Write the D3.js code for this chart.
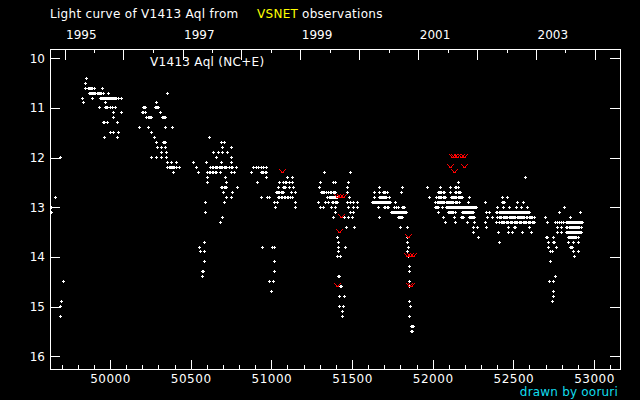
<!DOCTYPE html>
<html><head><meta charset="utf-8">
<script src="https://cdn.jsdelivr.net/npm/d3@7"></script>
<style>html,body{margin:0;padding:0;background:#000;}svg{display:block;}</style>
</head><body>
<svg id="chart" width="640" height="400"></svg>
<script>
// ---- data: [magnitude, [JD-2400000 ...]] ----
const season1994 = [[12.0,[49690]],[12.8,[49661]],[13.0,[49636]],[13.1,[49636]],[14.5,[49711]],[14.9,[49698]],[15.0,[49692]],[15.2,[49692]]];
const season1995 = [
 [10.4,[49853]],[10.5,[49847]],
 [10.6,[49847,49866,49872,49880,49886,49893,49901,49952]],
 [10.7,[49872,49878,49886,49893,49899,49906,49913,49920,49926,49932,49938,49944,49950,49959,49992]],
 [10.8,[49829,49891,49938,49945,49952,49959,49967,49973,49979,49986,49992,49998,50004,50010,50016,50022,50029,50035,50041,50052,50070]],
 [10.9,[49835,49973]],
 [11.0,[49934,49969,49979,49986,50000,50014,50031]],
 [11.1,[50021,50070]],[11.2,[50021]],
 [11.3,[49961,49967,49983,50045]],
 [11.5,[50004,50021,50052]],[11.6,[49965,50045]]];
const season1996 = [
 [10.7,[50355]],[10.9,[50287]],
 [11.0,[50209,50216,50223,50279,50284,50289,50294,50299]],
 [11.1,[50200,50209,50223,50314]],
 [11.2,[50227,50237,50244,50252,50260,50324,50330,50336,50341]],
 [11.4,[50182,50238,50345,50386]],[11.5,[50258]],[11.6,[50275]],
 [11.7,[50289,50330,50336,50341]],[11.8,[50293,50320,50343]],[11.9,[50320,50347]],
 [12.0,[50256,50289,50320,50351]],[12.1,[50355,50382,50413]],
 [12.2,[50355,50367,50372,50378,50384,50390,50396,50402,50413,50429]],[12.3,[50392]]];
const season1997 = [
 [11.6,[50615]],[11.7,[50692,50708]],[11.8,[50696,50750]],[11.9,[50640,50671,50698,50727]],
 [12.0,[50661,50750]],[12.1,[50516,50599,50692,50754]],
 [12.2,[50537,50624,50634,50644,50652,50660,50668,50676,50684,50692,50700,50708,50716,50725,50743,50752,50760,50785]],
 [12.3,[50547,50603,50614,50624,50634,50644,50654,50661,50682,50754,50770]],
 [12.4,[50605,50714]],[12.5,[50603,50719]],
 [12.6,[50692,50700,50708,50716,50723,50789]],[12.7,[50702,50758]],[12.8,[50723,50754]],
 [12.9,[50593,50708]],[13.1,[50593]],[13.2,[50696]],[13.3,[50684]],
 [13.7,[50584]],[13.8,[50553]],[13.9,[50560,50584]],[14.1,[50584]],[14.3,[50572,50582]],[14.4,[50572]]];
const season1998 = [
 [12.2,[50888,50905,50921,50938,50954,50971]],
 [12.3,[50878,50940,50947,50954,50962,50971]],
 [12.4,[50971,51101,51130]],
 [12.5,[50913,51053,51078,51086,51095,51115,51130]],
 [12.6,[51043,51074,51080,51090,51111,51140]],
 [12.7,[51033,51040,51047,51053,51060,51066,51074,51126,51150]],
 [12.8,[50940,50975,50987,51043,51053,51064,51072,51080,51090,51100,51109,51120,51130]],
 [12.9,[51022,51039,51152]],[13.0,[51026,51150]],
 [13.8,[50944,51006,51020]],[14.1,[51018]],[14.3,[51018]],[14.5,[50991,51012]],[14.7,[50999]]];
const season1999 = [
 [12.3,[51328,51489]],[12.5,[51303,51384,51398,51477]],[12.6,[51297,51470]],
 [12.7,[51309,51316,51324,51332,51340,51355,51365,51375,51384,51392,51400,51470]],
 [12.8,[51347,51359,51365,51371,51377,51384,51390,51396,51402,51411,51483]],
 [12.9,[51291,51336,51353,51380,51388,51396,51404,51411,51470,51491,51508,51532]],
 [13.0,[51305,51326,51371,51396,51477,51508,51534]],
 [13.1,[51398,51491,51508]],[13.2,[51384,51456,51477,51501]],[13.4,[51464,51514]],
 [13.6,[51408]],[13.7,[51415]],[13.8,[51415,51458]],[13.9,[51415]],[14.0,[51413,51431]],
 [14.4,[51417,51421]],[14.6,[51429,51433]],[14.8,[51421,51452]],[15.0,[51421,51446]],[15.1,[51439]],[15.2,[51439]]];
const season2000 = [
 [12.6,[51669,51811]],
 [12.7,[51642,51669,51694,51702,51710,51720,51807]],
 [12.8,[51642,51669,51675,51681,51687,51694,51700,51706,51714,51731]],
 [12.9,[51627,51636,51642,51648,51654,51660,51666,51672,51678,51684,51690,51696,51702,51708,51714,51720,51727,51733,51739,51770]],
 [13.0,[51665,51704,51710,51718,51727,51766,51776,51786,51813,51817,51821,51828]],
 [13.1,[51745,51751,51757,51763,51769,51776,51782,51788,51794,51800,51806,51812,51818,51824,51830,51838]],
 [13.2,[51669,51791,51797,51803,51809,51813]],[13.4,[51799,51844]],
 [13.6,[51842]],[13.7,[51842]],[13.8,[51848]],[13.9,[51842]],[14.0,[51848]],[14.2,[51855]],[14.3,[51855]],
 [14.5,[51855]],[14.6,[51855]],[14.9,[51855]],[15.0,[51861]],[15.2,[51855]],[15.4,[51871,51875,51879]],[15.5,[51871,51875]]];
const season2001 = [
 [12.5,[52162]],
 [12.6,[51968,52049,52111,52142,52150,52158]],
 [12.7,[52034,52041,52049,52057,52065,52072,52111,52142,52150,52158,52166,52173]],
 [12.8,[51979,52024,52034,52041,52049,52057,52065,52074,52082,52117,52123,52130,52137,52144,52150,52157,52164,52171,52178,52185,52226]],
 [12.9,[52020,52027,52034,52041,52048,52055,52062,52069,52076,52083,52090,52097,52104,52111,52118,52125,52132,52140,52147,52154,52164,52220,52328]],
 [13.0,[52018,52024,52030,52034,52061,52086,52092,52098,52104,52110,52116,52122,52128,52134,52140,52146,52152,52158,52164,52170,52176,52182,52188,52194,52200,52206,52212,52218,52224,52230,52236,52242,52248,52254,52260,52266,52272]],
 [13.1,[52034,52096,52102,52108,52114,52120,52127,52140,52185,52191,52197,52203,52209,52216,52222,52228,52235,52241,52247,52251,52334,52354]],
 [13.2,[52065,52138,52179,52185,52191,52230,52236,52242,52248,52254,52262,52338]],
 [13.3,[52080,52144,52214,52257,52326]],[13.4,[52251,52276,52332]],[13.5,[52251]],[13.6,[52282]]];
const season2002 = [
 [12.4,[52573]],[12.8,[52433,52462]],[12.9,[52431,52437,52447,52524,52561]],
 [13.0,[52402,52437,52478,52520,52551,52588]],
 [13.1,[52396,52402,52416,52422,52428,52434,52440,52446,52452,52458,52464,52470,52476,52482,52488,52494,52500,52506,52512,52518,52524,52530,52536,52542,52548,52554,52560,52566,52572,52578,52584,52590,52596,52602]],
 [13.2,[52371,52400,52412,52420,52428,52436,52444,52452,52458,52466,52474,52482,52489,52496,52503,52509,52516,52523,52530,52536,52542,52551,52557,52563,52570,52582,52590,52598,52605,52612,52620,52629]],
 [13.3,[52398,52416,52424,52432,52440,52448,52456,52464,52472,52480,52488,52496,52504,52512,52520,52528,52536,52544,52552,52560,52568,52576,52584,52592,52600,52608,52616,52624,52631]],
 [13.4,[52468,52509,52516,52598]],[13.5,[52406,52468,52495,52557,52613]],[13.7,[52412]]];
const season2003 = [
 [13.0,[52815]],[13.1,[52784,52914]],[13.2,[52701,52856]],
 [13.3,[52710,52763,52772,52784,52798,52813,52829,52835,52842,52848,52854,52860,52866,52872,52878,52884,52890,52896,52902,52908,52914,52922,52929]],
 [13.4,[52772,52798,52829,52836,52848,52856,52862,52868,52874,52880,52886,52892,52898,52904,52910,52922]],
 [13.5,[52772,52798,52829,52835,52841,52847,52853,52859,52865,52871,52877,52883,52889,52895,52901,52907,52913,52919,52924]],
 [13.6,[52707,52712,52751,52840,52846,52852,52858,52864,52870,52876,52882,52888,52894,52902]],
 [13.7,[52716,52751,52753,52842,52875,52902]],
 [13.8,[52716,52765,52856,52860,52866]],
 [13.9,[52730,52741,52875,52902]],[14.0,[52881]],[14.1,[52728]],
 [14.4,[52761]],[14.5,[52722,52747]],[14.7,[52747]],[14.8,[52747]],[14.9,[52743]]];
// fainter-than limits (red marks)
const limitJD  = [51070,51408,51429,51450,51435,51425,51408,51852,51846,51863,51879,51855,51871,52121,52138,52155,52178,52199,52113,52195,52134];
const limitMag = [12.3, 12.8, 12.8, 12.8, 13.2, 13.5, 14.6, 13.6, 14.0, 14.0, 14.0, 14.6, 14.6, 12.0, 12.0, 12.0, 12.0, 12.0, 12.2, 12.2, 12.3];
// axis ticks
const jdMajor = [50000,50500,51000,51500,52000,52500,53000];
const jdMinor = [49700,49800,49900,50100,50200,50300,50400,50600,50700,50800,50900,51100,51200,51300,51400,51600,51700,51800,51900,52100,52200,52300,52400,52600,52700,52800,52900,53100];
const years = [1995,1996,1997,1998,1999,2000,2001,2002,2003,2004];
const yearLabels = [1995,1997,1999,2001,2003];
const magTicks = [10,11,12,13,14,15,16];

const toJD = (yy,m,d) => Date.UTC(yy,m,d)/86400000 + 2440587.5 - 2400000;

const svg = d3.select("#chart");
svg.append("rect").attr("width",640).attr("height",400).attr("fill","#000");

const x = d3.scaleLinear().domain([49628, 53161]).range([50, 620]);
const y = d3.scaleLinear().domain([9.813, 16.276]).range([49, 370]);

const font = "'DejaVu Sans', sans-serif";

function styleAxis(g){
  g.select(".domain").remove();
  g.selectAll("line").attr("stroke","#fff").attr("shape-rendering","crispEdges");
  g.selectAll("text").attr("fill","#fff").attr("font-family",font).attr("font-size",12);
}

// frame
svg.append("rect").attr("x",50.5).attr("y",49.5).attr("width",570).attr("height",320)
  .attr("fill","none").attr("stroke","#fff").attr("shape-rendering","crispEdges");

// bottom axis
svg.append("g").attr("transform","translate(0,370)")
  .call(d3.axisBottom(x).tickValues(jdMinor).tickSize(-5).tickFormat(""))
  .call(styleAxis);
const gb = svg.append("g").attr("transform","translate(0,370)")
  .call(d3.axisBottom(x).tickValues(jdMajor).tickSize(-10).tickFormat(d3.format("d")))
  .call(styleAxis);
gb.selectAll("text").attr("y",13).attr("dy",0).attr("letter-spacing","0.5px");

// top axis (years)
const yearJD = years.map(yy => toJD(yy,0,1));
const halfJD = years.map(yy => toJD(yy,6,2)).filter(v => v < 53161);
svg.append("g").attr("transform","translate(0,49)")
  .call(d3.axisTop(x).tickValues(halfJD).tickSize(-4).tickFormat(""))
  .call(styleAxis);
const gt = svg.append("g").attr("transform","translate(0,49)")
  .call(d3.axisTop(x).tickValues(yearJD).tickSize(-11)
    .tickFormat((d,i) => yearLabels.includes(years[i]) ? String(years[i]) : ""))
  .call(styleAxis);
gt.selectAll("text").attr("text-anchor","start").attr("x",1).attr("y",-10).attr("dy",0);

// left / right axes
svg.append("g").attr("transform","translate(50,0)")
  .call(d3.axisLeft(y).tickValues(magTicks).tickSize(-10).tickPadding(5).tickFormat(d3.format("d")))
  .call(styleAxis);
svg.append("g").attr("transform","translate(620,0)")
  .call(d3.axisRight(y).tickValues(magTicks).tickSize(-10).tickFormat(""))
  .call(styleAxis);

// observations
const seasons = [season1994,season1995,season1996,season1997,season1998,season1999,season2000,season2001,season2002,season2003];
const obs = seasons.flatMap(s => s.flatMap(([m, jds]) => jds.map(jd => ({jd, m}))));
svg.append("g").selectAll("path").data(obs).join("path")
  .attr("d", d => {
    const cx = Math.floor(x(d.jd)) + 0.5, cy = Math.floor(y(d.m)) + 0.5;
    return `M${cx-1.5},${cy}h3M${cx},${cy-1.5}v3`;
  })
  .attr("stroke","#fff").attr("stroke-width",1).attr("fill","none").attr("shape-rendering","crispEdges");

// upper limits (red "v" marks)
const lims = limitJD.map((jd,i) => ({jd, m: limitMag[i]}));
const vPix = [[-3,-2],[3,-2],[-2,-1],[2,-1],[-1,0],[1,0],[0,1],[-1,1],[1,1]];
svg.append("g").selectAll("path").data(lims).join("path")
  .attr("d", d => {
    const px = Math.floor(x(d.jd)), py = Math.floor(y(d.m)) - 1;
    return vPix.map(([dx,dy]) => `M${px+dx},${py+dy}h1v1h-1z`).join("");
  })
  .attr("fill","#ff0000").attr("shape-rendering","crispEdges");

// texts
function label(xp, yp, str, color, anchor, ls){
  svg.append("text").attr("x",xp).attr("y",yp).attr("fill",color)
    .attr("text-anchor",anchor || "start")
    .attr("font-family",font).attr("font-size",12).attr("letter-spacing",ls || "0.3px").text(str);
}
label(50, 18, "Light curve of V1413 Aql from", "#fff");
label(257, 18, "VSNET", "#ffff00");
label(302, 18, "observations", "#fff");
label(150, 66, "V1413 Aql (NC+E)", "#fff");
label(618, 396, "drawn by ooruri", "#11ddee", "end", "0.2px");
</script>
</body></html>
